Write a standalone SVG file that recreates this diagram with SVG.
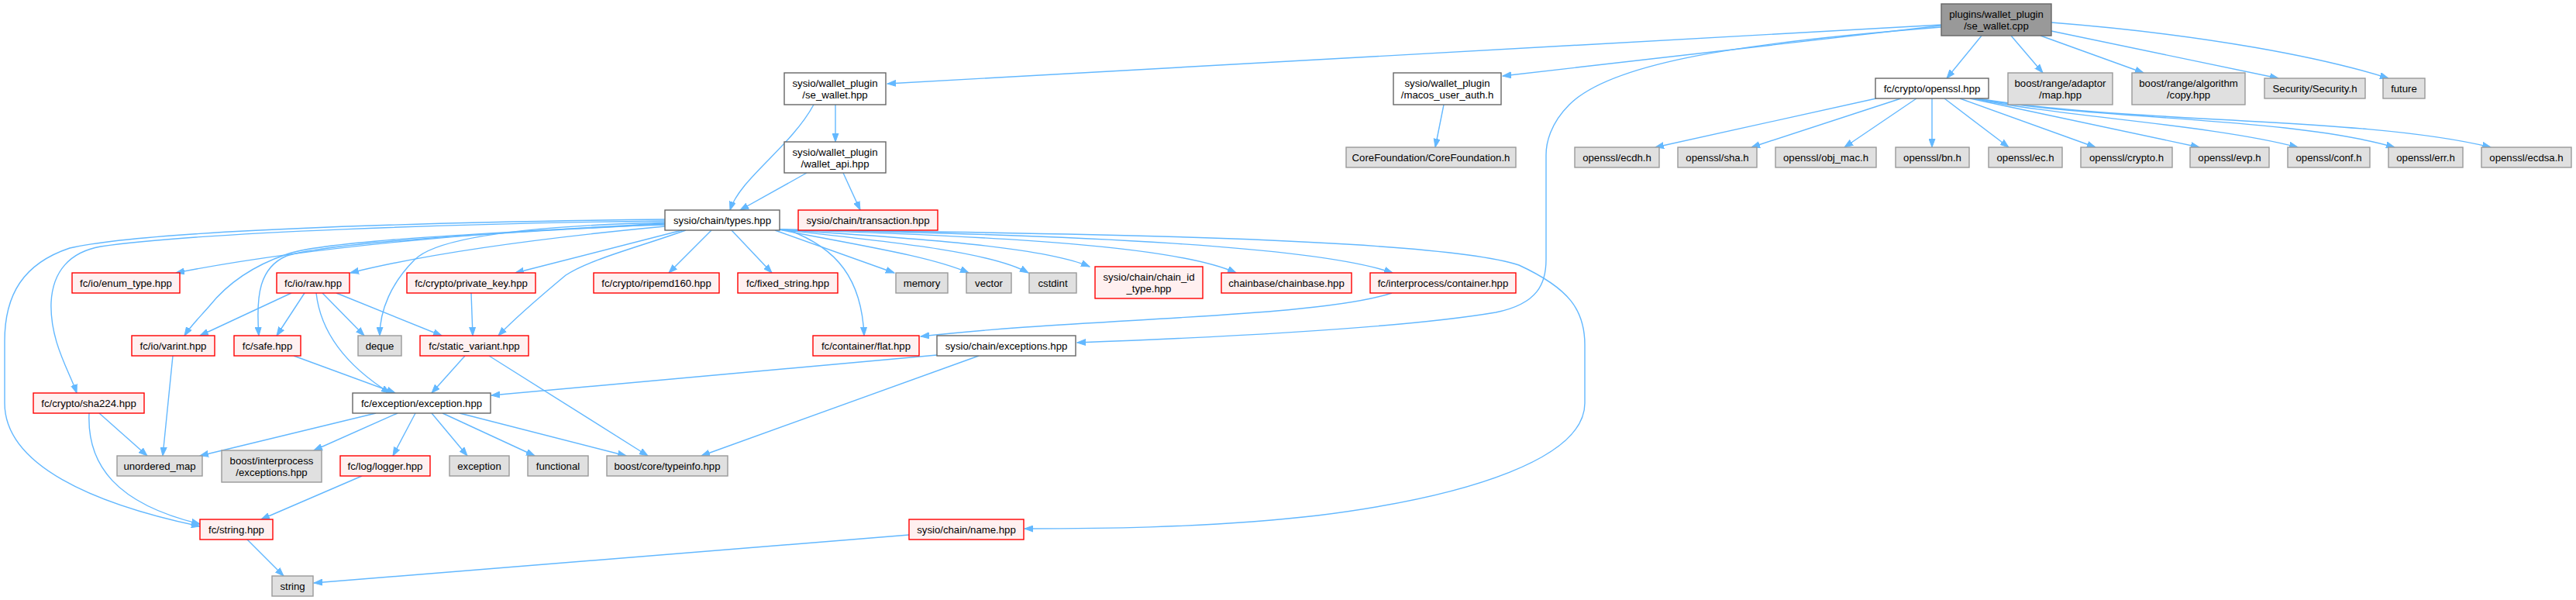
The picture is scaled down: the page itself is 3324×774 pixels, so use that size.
<svg xmlns="http://www.w3.org/2000/svg" width="3324" height="774" viewBox="0 0 3324 774">
<style>
.n rect{stroke-width:1.4}
.w rect{fill:#ffffff;stroke:#666666}
.g rect{fill:#e0e0e0;stroke:#999999}
.r rect{fill:#fff0f0;stroke:#ff0000}
.t rect{fill:#999999;stroke:#666666}
text{font-family:"Liberation Sans",Arial,sans-serif;font-size:13.2px;fill:#000000;text-anchor:middle}
#edges path{fill:none;stroke:#63b8ff;stroke-width:1.4;marker-end:url(#a)}
</style>
<defs>
<marker id="a" markerWidth="12" markerHeight="9" refX="11" refY="4.5" orient="auto" markerUnits="userSpaceOnUse">
<path d="M0,0.5 L11,4.5 L0,8.5 z" fill="#63b8ff" stroke="#63b8ff" stroke-width="1"/>
</marker>
</defs>
<rect width="3324" height="774" fill="#ffffff"/>
<g id="edges">
<path d="M2505,32 L1145,108"/>
<path d="M2505,33 L1939,98"/>
<path d="M2505,35 C2250,55 2080,80 2025,135 C2000,160 1995,185 1995,200 L1995,335 C1995,365 1985,392 1930,403 C1800,425 1550,436 1390,442"/>
<path d="M2557,46 L2512,101"/>
<path d="M2595,46 L2636,94"/>
<path d="M2633,46 L2766,94"/>
<path d="M2647,40 L2940,101"/>
<path d="M2647,29 C2850,45 3000,75 3082,101"/>
<path d="M1050,135 C1020,190 955,230 942,271"/>
<path d="M1078,135 L1078,183"/>
<path d="M1041,223 L955,271"/>
<path d="M1088,223 L1110,271"/>
<path d="M1863,135 L1852,190"/>
<path d="M2421,127 L2136,190"/>
<path d="M2453,127 L2260,190"/>
<path d="M2473,127 L2380,190"/>
<path d="M2493,127 L2493,190"/>
<path d="M2509,127 L2592,190"/>
<path d="M2529,127 L2704,190"/>
<path d="M2542,127 L2838,190"/>
<path d="M2548,127 C2650,150 2850,160 2965,190"/>
<path d="M2550,127 C2700,155 2950,150 3090,190"/>
<path d="M2552,127 C2750,160 3050,150 3214,190"/>
<path d="M858,290 C650,296 400,318 227,352"/>
<path d="M858,292 C720,305 560,325 452,352"/>
<path d="M880,297 L665,352"/>
<path d="M918,297 L863,352"/>
<path d="M944,297 L996,352"/>
<path d="M1000,297 L1154,352"/>
<path d="M1005,296 C1100,315 1200,330 1250,352"/>
<path d="M1005,296 C1150,312 1280,325 1327,352"/>
<path d="M1005,296 C1200,308 1350,320 1406,344"/>
<path d="M1005,296 C1300,305 1520,318 1595,352"/>
<path d="M1005,296 C1400,303 1700,318 1797,352"/>
<path d="M1018,297 C1080,320 1112,360 1115,433"/>
<path d="M1005,296 C1300,300 1850,305 1960,342 C2025,372 2045,400 2045,445 L2045,520 C2045,590 1900,640 1700,665 C1550,682 1400,682 1322,682"/>
<path d="M858,288 C650,300 420,310 370,328 C320,345 290,370 270,395 C255,412 245,422 238,433"/>
<path d="M858,289 C650,300 430,312 370,330 C335,345 330,380 334,433"/>
<path d="M858,287 C650,292 560,310 535,335 C505,365 490,400 490,433"/>
<path d="M885,297 C820,320 760,335 730,355 C700,380 665,410 643,433"/>
<path d="M858,285 C600,288 250,300 130,318 C90,325 68,350 66,390 C64,440 90,480 99,507"/>
<path d="M858,283 C600,286 200,295 90,320 C30,340 6,380 6,440 L6,520 C6,600 120,650 258,679"/>
<path d="M376,378 L258,433"/>
<path d="M393,378 L357,433"/>
<path d="M408,378 C415,440 460,480 503,507"/>
<path d="M416,378 L470,433"/>
<path d="M434,378 L570,433"/>
<path d="M608,378 L610,433"/>
<path d="M223,459 L210,588"/>
<path d="M379,459 L510,507"/>
<path d="M600,459 L557,507"/>
<path d="M631,459 L836,588"/>
<path d="M128,533 L190,588"/>
<path d="M115,533 C112,600 150,650 258,676"/>
<path d="M485,533 L258,588"/>
<path d="M513,533 L405,581"/>
<path d="M536,533 L507,588"/>
<path d="M557,533 L603,588"/>
<path d="M571,533 L690,588"/>
<path d="M593,533 L808,588"/>
<path d="M1209,458 L634,510"/>
<path d="M1263,459 L905,588"/>
<path d="M467,614 L337,670"/>
<path d="M318,695 L366,743"/>
<path d="M1173,690 L405,752"/>
<path d="M1796,378 C1700,410 1400,410 1188,434"/>
</g>
<g id="n0" class="n t"><rect x="2505" y="5" width="142" height="41"/><text x="2576" y="23">plugins/wallet_plugin</text><text x="2576" y="38">/se_wallet.cpp</text></g>
<g id="n1" class="n w"><rect x="1012" y="94" width="131" height="41"/><text x="1077.5" y="112">sysio/wallet_plugin</text><text x="1077.5" y="127">/se_wallet.hpp</text></g>
<g id="n2" class="n w"><rect x="1012" y="183" width="131" height="40"/><text x="1077.5" y="201">sysio/wallet_plugin</text><text x="1077.5" y="216">/wallet_api.hpp</text></g>
<g id="n3" class="n w"><rect x="858" y="271" width="148" height="26"/><text x="932" y="289">sysio/chain/types.hpp</text></g>
<g id="n4" class="n r"><rect x="1030" y="271" width="180" height="26"/><text x="1120" y="289">sysio/chain/transaction.hpp</text></g>
<g id="n5" class="n w"><rect x="1798" y="94" width="139" height="41"/><text x="1867.5" y="112">sysio/wallet_plugin</text><text x="1867.5" y="127">/macos_user_auth.h</text></g>
<g id="n6" class="n g"><rect x="1737" y="190" width="219" height="26"/><text x="1846.5" y="208">CoreFoundation/CoreFoundation.h</text></g>
<g id="n7" class="n w"><rect x="2420" y="101" width="146" height="26"/><text x="2493" y="119">fc/crypto/openssl.hpp</text></g>
<g id="n8" class="n g"><rect x="2591" y="94" width="135" height="41"/><text x="2658.5" y="112">boost/range/adaptor</text><text x="2658.5" y="127">/map.hpp</text></g>
<g id="n9" class="n g"><rect x="2751" y="94" width="146" height="41"/><text x="2824" y="112">boost/range/algorithm</text><text x="2824" y="127">/copy.hpp</text></g>
<g id="n10" class="n g"><rect x="2922" y="101" width="130" height="26"/><text x="2987" y="119">Security/Security.h</text></g>
<g id="n11" class="n g"><rect x="3075" y="101" width="54" height="26"/><text x="3102" y="119">future</text></g>
<g id="n12" class="n g"><rect x="2032" y="190" width="109" height="26"/><text x="2086.5" y="208">openssl/ecdh.h</text></g>
<g id="n13" class="n g"><rect x="2165" y="190" width="102" height="26"/><text x="2216" y="208">openssl/sha.h</text></g>
<g id="n14" class="n g"><rect x="2291" y="190" width="130" height="26"/><text x="2356" y="208">openssl/obj_mac.h</text></g>
<g id="n15" class="n g"><rect x="2446" y="190" width="95" height="26"/><text x="2493.5" y="208">openssl/bn.h</text></g>
<g id="n16" class="n g"><rect x="2566" y="190" width="95" height="26"/><text x="2613.5" y="208">openssl/ec.h</text></g>
<g id="n17" class="n g"><rect x="2685" y="190" width="118" height="26"/><text x="2744" y="208">openssl/crypto.h</text></g>
<g id="n18" class="n g"><rect x="2826" y="190" width="102" height="26"/><text x="2877" y="208">openssl/evp.h</text></g>
<g id="n19" class="n g"><rect x="2952" y="190" width="106" height="26"/><text x="3005" y="208">openssl/conf.h</text></g>
<g id="n20" class="n g"><rect x="3082" y="190" width="96" height="26"/><text x="3130" y="208">openssl/err.h</text></g>
<g id="n21" class="n g"><rect x="3202" y="190" width="116" height="26"/><text x="3260" y="208">openssl/ecdsa.h</text></g>
<g id="n22" class="n r"><rect x="93" y="352" width="139" height="26"/><text x="162.5" y="370">fc/io/enum_type.hpp</text></g>
<g id="n23" class="n r"><rect x="357" y="352" width="94" height="26"/><text x="404" y="370">fc/io/raw.hpp</text></g>
<g id="n24" class="n r"><rect x="525" y="352" width="166" height="26"/><text x="608" y="370">fc/crypto/private_key.hpp</text></g>
<g id="n25" class="n r"><rect x="766" y="352" width="162" height="26"/><text x="847" y="370">fc/crypto/ripemd160.hpp</text></g>
<g id="n26" class="n r"><rect x="952" y="352" width="129" height="26"/><text x="1016.5" y="370">fc/fixed_string.hpp</text></g>
<g id="n27" class="n g"><rect x="1156" y="352" width="67" height="26"/><text x="1189.5" y="370">memory</text></g>
<g id="n28" class="n g"><rect x="1247" y="352" width="58" height="26"/><text x="1276" y="370">vector</text></g>
<g id="n29" class="n g"><rect x="1328" y="352" width="61" height="26"/><text x="1358.5" y="370">cstdint</text></g>
<g id="n30" class="n r"><rect x="1413" y="344" width="139" height="41"/><text x="1482.5" y="362">sysio/chain/chain_id</text><text x="1482.5" y="377">_type.hpp</text></g>
<g id="n31" class="n r"><rect x="1576" y="352" width="168" height="26"/><text x="1660" y="370">chainbase/chainbase.hpp</text></g>
<g id="n32" class="n r"><rect x="1768" y="352" width="188" height="26"/><text x="1862" y="370">fc/interprocess/container.hpp</text></g>
<g id="n33" class="n r"><rect x="170" y="433" width="107" height="26"/><text x="223.5" y="451">fc/io/varint.hpp</text></g>
<g id="n34" class="n r"><rect x="302" y="433" width="86" height="26"/><text x="345" y="451">fc/safe.hpp</text></g>
<g id="n35" class="n g"><rect x="462" y="433" width="56" height="26"/><text x="490" y="451">deque</text></g>
<g id="n36" class="n r"><rect x="542" y="433" width="140" height="26"/><text x="612" y="451">fc/static_variant.hpp</text></g>
<g id="n37" class="n r"><rect x="1049" y="433" width="137" height="26"/><text x="1117.5" y="451">fc/container/flat.hpp</text></g>
<g id="n38" class="n w"><rect x="1209" y="433" width="179" height="26"/><text x="1298.5" y="451">sysio/chain/exceptions.hpp</text></g>
<g id="n39" class="n r"><rect x="43" y="507" width="143" height="26"/><text x="114.5" y="525">fc/crypto/sha224.hpp</text></g>
<g id="n40" class="n w"><rect x="455" y="507" width="178" height="26"/><text x="544" y="525">fc/exception/exception.hpp</text></g>
<g id="n41" class="n g"><rect x="151" y="588" width="110" height="26"/><text x="206" y="606">unordered_map</text></g>
<g id="n42" class="n g"><rect x="286" y="581" width="129" height="41"/><text x="350.5" y="599">boost/interprocess</text><text x="350.5" y="614">/exceptions.hpp</text></g>
<g id="n43" class="n r"><rect x="439" y="588" width="116" height="26"/><text x="497" y="606">fc/log/logger.hpp</text></g>
<g id="n44" class="n g"><rect x="580" y="588" width="77" height="26"/><text x="618.5" y="606">exception</text></g>
<g id="n45" class="n g"><rect x="681" y="588" width="78" height="26"/><text x="720" y="606">functional</text></g>
<g id="n46" class="n g"><rect x="783" y="588" width="156" height="26"/><text x="861" y="606">boost/core/typeinfo.hpp</text></g>
<g id="n47" class="n r"><rect x="258" y="670" width="94" height="26"/><text x="305" y="688">fc/string.hpp</text></g>
<g id="n48" class="n r"><rect x="1173" y="670" width="148" height="26"/><text x="1247" y="688">sysio/chain/name.hpp</text></g>
<g id="n49" class="n g"><rect x="351" y="743" width="53" height="26"/><text x="377.5" y="761">string</text></g>
</svg>
